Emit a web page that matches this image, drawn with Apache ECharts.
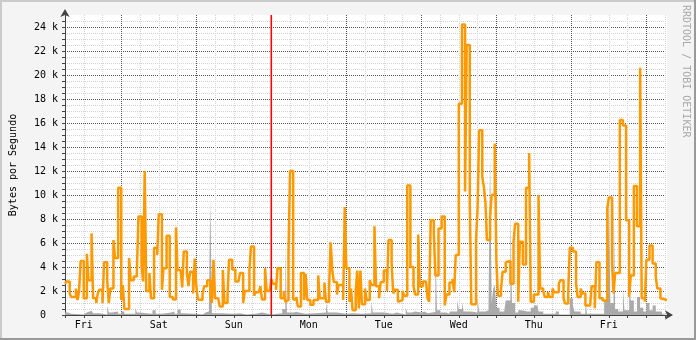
<!DOCTYPE html>
<html><head><meta charset="utf-8">
<script src="https://cdn.jsdelivr.net/npm/echarts@6/dist/echarts.min.js"></script>
<style>html,body{margin:0;padding:0;background:#f4f4f4}#c{width:696px;height:340px}</style>
</head><body><div id="c"></div>
<script>
// Day names for the x axis (labels sit at noon of each day; hours counted from first Friday 00:00)
const dayNames = ['Fri','Sat','Sun','Mon','Tue','Wed','Thu','Fri'];
const xStart = 6, xEnd = 198.6;
const markerHour = 72; // red rule (Mon 00:00)
const yMax = 25000;

// Orange line: step start time (hours) and value (k bytes/s)
const orangeHours = [6,6.5,7.5,8,9.5,10,10.5,11,12,13,13.5,14.5,15,16,16.5,17,18,18.5,19.5,20,20.5,21.5,22,23,
24,24.5,25,26.5,27,28,29,29.5,30.5,31,31.5,32,33,33.5,34.5,35.5,36,37,37.5,38.5,39.5,40.5,41.5,42,43,43.5,44,45,45.5,46,47,47.5,
48,48.5,49,50,50.5,51.5,52.5,53,53.5,54,55,55.5,56.5,57,58,58.5,59.5,60.5,61.5,62,63,63.5,65,65.5,66.5,67,68,68.5,69,70,70.5,71.5,
72,72.5,73.5,74,75,76,76.5,77,77.5,78,79,80,80.5,81.5,82,82.5,83,83.5,84.5,85.5,87,87.5,89,89.5,90.5,91,91.5,92,93,93.5,95,95.5,
96,97,97.5,98,99,99.5,100,100.5,101,102,102.5,103.5,104,105,105.5,106.5,107,108,109,109.5,110.5,111,111.5,112.5,113,114,114.5,115.5,116.5,117.5,118,119,119.5,
120.5,121.5,122,122.5,123,124,124.5,125.5,126.5,127.5,128,129,130,130.5,131,132,133,134,134.5,135.5,136,137.5,138,138.5,139.5,140,140.5,141,142,142.5,143.5,
144,144.5,145.5,146,147,147.5,148.5,149.5,150,151,151.5,152.5,153.5,154.5,155,156,157.5,158,159,159.5,160.5,161,162,162.5,164,164.5,165.5,166,167,167.5,
168.5,169.5,170,171,171.5,172.5,174,174.5,175.5,176,177,178,179.5,180,181,181.5,182,183.5,184.5,185.5,186.5,187,188,189,190,190.5,191.5,192,193,194,195,195.5,196.5,197];
const orangeK = [2.6,2.8,1.8,1.5,2.2,1.25,1.95,4.5,1.4,5.1,2.9,6.8,1.4,1.0,1.8,2.1,1.0,4.4,2.9,1.0,2.2,6.25,4.75,10.6,
1.25,2.5,0.5,4.75,2.9,3.2,3.75,8.2,4.2,2.8,12.0,2.0,3.5,1.4,5.6,5.0,8.4,2.1,3.9,6.6,1.5,1.3,7.3,3.75,3.9,2.3,5.3,3.5,2.4,3.6,1.8,4.7,
2.4,1.3,1.25,1.7,2.4,2.9,1.6,1.0,4.6,1.4,1.25,0.7,3.75,1.0,1.7,4.6,3.8,2.8,2.9,3.5,1.0,2.0,3.75,5.7,1.6,1.9,2.0,2.4,1.3,3.9,2.0,2.1,
3.0,2.6,2.1,3.9,1.4,2.0,1.1,1.25,5.0,12.0,1.3,1.5,0.7,3.5,3.5,1.25,3.4,1.25,0.85,1.25,3.3,1.4,2.7,1.1,2.4,6.05,3.75,2.75,1.7,2.5,1.25,9.0,
3.9,1.1,2.2,0.4,2.0,3.7,0.55,3.7,0.9,2.2,1.25,2.9,2.5,7.4,2.4,1.4,2.75,3.7,2.0,6.25,4.3,1.8,2.1,1.1,1.25,2.0,1.6,10.8,4.0,2.4,1.7,6.7,2.4,
2.8,2.75,1.4,1.1,7.9,6.8,3.3,7.2,8.2,0.8,1.7,2.7,3.0,1.9,5.0,17.6,24.2,10.3,22.5,9.3,0.9,6.25,8.9,15.4,11.5,10.7,9.4,6.25,8.2,10.0,14.3,
4.6,1.6,2.2,3.6,4.4,4.5,2.6,6.1,7.6,1.1,6.1,4.2,10.6,13.5,1.1,1.7,10.0,2.2,2.0,1.5,1.9,1.5,2.2,1.9,2.6,2.9,1.4,0.96,1.94,5.6,
5.3,2.6,1.5,2.2,1.8,0.8,0.7,2.4,0.56,4.4,1.4,1.2,8.9,9.8,4.4,1.8,3.5,16.25,15.8,7.9,1.5,3.3,10.75,7.4,20.6,1.4,1.1,4.6,5.8,4.3,3.2,2.2,1.4,1.25];

// Gray area: step start time (hours) and value (k bytes/s)
const grayHours = [6,7,8,12,13,14.5,15,17,19.5,20,21,22,23,24,25,28.5,29,30,32,34,35,37,40,41,42,43,44,47,48,50,51,52,52.5,53,56,60,62,64,67,69,
72,74,75.5,76.5,77,79,80,83,86,89.5,90,93,96,98,101,104,104.5,108,111,112,115,115.5,117,118,120,121,122,124.5,125,126,128,129,131.5,132,133,133.5,136,138,138.5,140.5,141.5,142,142.5,143,143.5,
144,145,146.5,147,148.5,149,150,151,152,154,155,156,157,157.5,159,163,164,167.5,168.5,169,171,172.5,173,177,178.5,179.5,180,180.5,181.5,182,183,184.5,185,186.5,187,188,189,190,191,192,193,194,195,196,197];
const grayK = [0.2,0.1,0.05,0.2,0.35,0.4,0.15,0.05,0.8,0.2,0.25,0.3,0.1,0.3,0.1,0.6,0.2,0.15,0.1,0.4,0.1,0.2,0.3,0.1,0.45,0.15,0.1,0.1,0.05,0.2,0.3,0.1,9.6,0.15,0.1,0.15,0.05,0.1,0.2,0.05,
0.1,0.15,0.5,5.5,0.2,0.25,0.1,0.15,0.2,1.0,0.2,0.1,0.15,0.1,0.15,1.1,0.2,0.1,0.2,0.05,0.6,0.2,0.3,0.2,0.3,0.15,0.25,6.1,0.4,0.2,0.1,0.3,1.25,0.5,1.1,0.3,0.2,1.4,0.3,0.4,0.8,13.3,1.0,2.2,2.5,
0.6,0.3,0.4,1.2,9.0,1.0,0.2,0.4,0.3,0.3,0.6,0.8,1.0,0.3,0.1,0.3,0.05,1.4,0.8,0.3,0.1,1.1,0.1,0.1,1.2,1.4,9.8,1.0,11.0,0.5,0.3,2.2,0.4,2.2,1.2,0.3,1.5,0.6,0.3,1.0,0.4,0.8,0.3,0.3,0.1];

function build(hours, vals) {
  const d = hours.map((h, i) => [h, vals[i] * 1000]);
  d.push([xEnd, vals[vals.length - 1] * 1000]);
  return d;
}

const mono = 'DejaVu Sans Mono';
const chart = echarts.init(document.getElementById('c'), null, {renderer: 'canvas'});
chart.setOption({
  animation: false,
  backgroundColor: '#f4f4f4',
  grid: {left: 65, top: 15, width: 602, height: 300, show: true, backgroundColor: '#ffffff', borderWidth: 0},
  xAxis: {
    type: 'value', min: xStart, max: xEnd, interval: 6,
    axisLine: {show: true, onZero: false, symbol: ['none', 'arrow'], symbolSize: [7, 8], symbolOffset: [0, 6],
      lineStyle: {color: '#444', width: 1}},
    axisTick: {show: true, length: 3, lineStyle: {color: '#444'}},
    axisLabel: {
      margin: 5, fontFamily: mono, fontSize: 10, color: '#000', showMaxLabel: false,
      formatter: v => (v % 24 === 12 ? dayNames[(v - 12) / 24] : '')
    },
    splitLine: {show: true, showMaxLine: false,
      lineStyle: {type: 'dotted', width: 1, color: ['#d4d4d4', '#d4d4d4', '#d4d4d4', '#555555']}}
  },
  yAxis: {
    type: 'value', min: 0, max: yMax, interval: 500,
    name: 'Bytes por Segundo', nameLocation: 'middle', nameGap: 47, nameRotate: 90,
    nameTextStyle: {fontFamily: mono, fontSize: 10, color: '#000'},
    axisLine: {show: true, symbol: ['none', 'arrow'], symbolSize: [7, 8], symbolOffset: [0, 6],
      lineStyle: {color: '#444', width: 1}},
    axisTick: {show: true, length: 3, lineStyle: {color: '#444'}},
    axisLabel: {
      margin: 7, fontFamily: mono, fontSize: 10, color: '#000', showMaxLabel: false,
      formatter: v => (v % 2000 === 0 ? (v === 0 ? '0  ' : (v / 1000) + ' k') : '')
    },
    splitLine: {show: true, showMaxLine: false,
      lineStyle: {type: 'dotted', width: 1, color: ['#555555', '#d4d4d4', '#d4d4d4', '#d4d4d4']}}
  },
  series: [
    {
      type: 'line', step: 'end', data: build(grayHours, grayK), showSymbol: false, symbol: 'none',
      lineStyle: {width: 0}, areaStyle: {color: '#aaaaaa', opacity: 1}, silent: true
    },
    {
      type: 'line', step: 'end', data: build(orangeHours, orangeK), showSymbol: false, symbol: 'none',
      lineStyle: {width: 2.5, color: '#ff9900'}, itemStyle: {color: '#ff9900'}, silent: true
    },
    {
      type: 'line', data: [[markerHour, 0], [markerHour, yMax]], showSymbol: false, symbol: 'none',
      lineStyle: {width: 1.6, color: '#ff0000'}, itemStyle: {color: '#ff0000'}, silent: true
    }
  ],
  graphic: [
    {type: 'text', x: 686, y: 5, rotation: -Math.PI / 2,
      style: {text: 'RRDTOOL / TOBI OETIKER', fill: '#a8a8a8', font: '10px "DejaVu Sans Mono"',
        textAlign: 'left', textVerticalAlign: 'middle'}},
    {type: 'line', shape: {x1: 0, y1: 1, x2: 696, y2: 1}, style: {stroke: '#cbcbcb', lineWidth: 2}},
    {type: 'line', shape: {x1: 1, y1: 0, x2: 1, y2: 340}, style: {stroke: '#cbcbcb', lineWidth: 2}},
    {type: 'line', shape: {x1: 695, y1: 0, x2: 695, y2: 340}, style: {stroke: '#999999', lineWidth: 2}},
    {type: 'line', shape: {x1: 0, y1: 339, x2: 696, y2: 339}, style: {stroke: '#999999', lineWidth: 2}}
  ]
});
</script>
</body></html>
